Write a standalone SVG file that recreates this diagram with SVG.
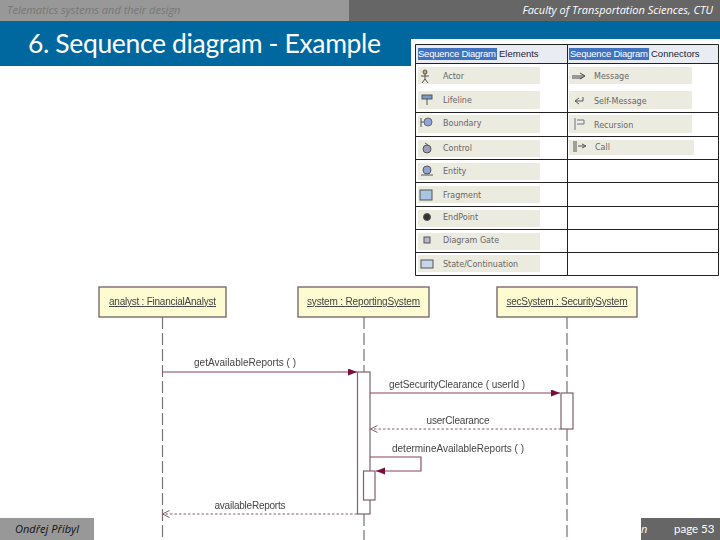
<svg xmlns="http://www.w3.org/2000/svg" width="720" height="540" viewBox="0 0 720 540">
<style>
.hd{font-family:"Open Sans","DejaVu Sans",sans-serif;font-style:italic;font-size:11px}
.uml{font-family:"Liberation Sans",Arial,sans-serif;font-size:10px;fill:#444}
.u{text-decoration:underline}
.cell{fill:#ecebe0}
.lab{font-family:"DejaVu Sans",sans-serif;font-size:8px;fill:#666}
.th{font-family:"Liberation Sans",Arial,sans-serif;font-size:9.500px}
.grid{stroke:#222;stroke-width:1;fill:none}
.obj{fill:#fdfbd2;stroke:#7d6a6a;stroke-width:1.4}
.life{stroke:#7f6f74;stroke-width:1.2;stroke-dasharray:12 4;fill:none}
.act{fill:#fff;stroke:#80606c;stroke-width:1.2}
.msg{stroke:#85405c;stroke-width:1.1;fill:none}
.ret{stroke:#85606e;stroke-width:1;stroke-dasharray:2.500 2;fill:none}
</style>
<defs>
<filter id="soft" x="-2%" y="-2%" width="104%" height="104%"><feGaussianBlur stdDeviation="0.35"/></filter>
<marker id="solid" markerWidth="10" markerHeight="8" refX="9" refY="3.500" orient="auto" markerUnits="userSpaceOnUse"><path d="M0 0L9 3.500L0 7Z" fill="#7b0f3c"/></marker>
<marker id="open" markerWidth="9" markerHeight="8" refX="7.500" refY="3.500" orient="auto" markerUnits="userSpaceOnUse"><path d="M0.500 0L7.500 3.500L0.500 7" fill="none" stroke="#85606e"/></marker>
</defs>
<rect width="720" height="540" fill="#fff"/>
<g id="header">
<rect x="0" y="0" width="349" height="21" fill="#989898"/>
<rect x="349" y="0" width="371" height="21" fill="#666"/>
<rect x="0" y="21" width="720" height="18" fill="#00689f"/>
<rect x="0" y="39" width="411" height="27" fill="#00689f"/>
<text x="7" y="14" class="hd" fill="#777">Telematics systems and their design</text>
<text x="713" y="14" class="hd" fill="#fff" text-anchor="end">Faculty of Transportation Sciences, CTU</text>
<text x="28" y="53" font-family="Lato,'Open Sans',sans-serif" font-size="26.500" fill="#fff" textLength="353">6. Sequence diagram - Example</text>
</g>
<g id="footer">
<rect x="0" y="518" width="94" height="22" fill="#989898"/>
<rect x="641" y="518" width="79" height="22" fill="#666"/>
<text x="15" y="533" class="hd" fill="#111" textLength="64">Ondřej Přibyl</text>
<text x="641" y="533" class="hd" fill="#fff">n</text>
<text x="674" y="533" font-family="Lato,sans-serif" font-size="11.500" fill="#fff">page 53</text>
</g>
<g id="palette">
<rect x="411" y="39" width="309" height="240" fill="#fff"/>
<rect x="416" y="45" width="302" height="18" fill="#e9ecf3"/>
<rect x="418" y="48" width="79" height="12" fill="#3f72c0"/>
<rect x="569" y="48" width="80" height="12" fill="#3f72c0"/>
<g class="cell">
<rect x="418" y="67" width="122" height="17"/><rect x="418" y="91" width="122" height="18"/><rect x="418" y="115" width="122" height="18"/>
<rect x="418" y="140" width="122" height="17"/><rect x="418" y="163" width="122" height="17"/><rect x="418" y="186" width="122" height="17"/><rect x="418" y="210" width="122" height="17"/><rect x="418" y="233" width="122" height="17"/><rect x="418" y="255" width="122" height="17"/>
<rect x="569" y="67" width="123" height="17"/><rect x="569" y="91" width="123" height="18"/><rect x="569" y="115" width="123" height="18"/><rect x="569" y="140" width="125" height="15"/>
</g>
<path class="grid" d="M415.500 44.500H718.500V275.500H415.500ZM415.500 63.500H718.500M415.500 112.500H718.500M415.500 136.500H718.500M415.500 159.500H718.500M415.500 182.500H718.500M415.500 206.500H718.500M415.500 229.500H718.500M415.500 252.500H718.500M567.500 44.500V275.500"/>
<text x="418" y="57" class="th" fill="#fff" textLength="78">Sequence Diagram</text><text x="499" y="57" class="th" fill="#223">Elements</text>
<text x="570" y="57" class="th" fill="#fff" textLength="78">Sequence Diagram</text><text x="651" y="57" class="th" fill="#223">Connectors</text>
<g class="lab">
<text x="443" y="79">Actor</text><text x="443" y="103">Lifeline</text><text x="443" y="126">Boundary</text><text x="443" y="151">Control</text><text x="443" y="174">Entity</text><text x="443" y="198">Fragment</text><text x="443" y="220">EndPoint</text><text x="443" y="243">Diagram Gate</text><text x="443" y="267">State/Continuation</text>
<text x="594" y="79">Message</text><text x="594" y="104">Self-Message</text><text x="594" y="128">Recursion</text><text x="595" y="150">Call</text>
</g>
<g fill="none" stroke="#555">
<circle cx="425" cy="72" r="2" fill="#c9a66b"/><path d="M425 74V79M421 76H429M425 79L422 83M425 79L428 83"/>
<rect x="422" y="95" width="10" height="4" fill="#7a9ac8"/><path d="M427 99V105"/>
<path d="M421 118V127M421 122H424"/><circle cx="428" cy="122" r="4" fill="#8ea6d6" stroke="#667"/>
<circle cx="427" cy="149" r="4" fill="#9aa0b8"/><path d="M425 143L428 145"/>
<circle cx="427" cy="170" r="4" fill="#8ea6d6"/><path d="M421 175H433"/>
<rect x="420" y="190" width="12" height="10" fill="#a8c6e4"/>
<circle cx="427" cy="217" r="3.500" fill="#333"/>
<rect x="424" y="237" width="6" height="6" fill="#b0b8d0"/>
<rect x="421" y="260" width="12" height="8" fill="#c8d6ea"/>
<path d="M572 76H584M580 73L585 76L580 79M572 78H582" stroke="#445"/>
<path d="M583 97V101H576M579 98L575 101L579 104"/>
<path d="M575 118V130M577 120H584V124H577" stroke="#678"/>
<path d="M574 141V152M576 141V152M578 146H585M582 144L586 146L582 148"/>
</g>
</g>
<g id="uml-backdrop"><rect x="94" y="287" width="547" height="253" fill="#fff"/></g>
<g id="uml" filter="url(#soft)">
<g id="connectors">
<path class="life" d="M162.500 317V540"/>
<path class="life" d="M364 317V372M364 514V540"/>
<path class="life" d="M567 317V393M567 429V540"/>
</g>
<g id="node-analyst"><rect class="obj" x="99" y="287" width="127" height="30"/><text class="uml u" x="162.500" y="305" text-anchor="middle" textLength="107">analyst : FinancialAnalyst</text></g>
<g id="node-system"><rect class="obj" x="298" y="287" width="131" height="30"/><text class="uml u" x="363.500" y="305" text-anchor="middle" textLength="113">system : ReportingSystem</text></g>
<g id="node-secsystem"><rect class="obj" x="497" y="287" width="140" height="30"/><text class="uml u" x="567" y="305" text-anchor="middle" textLength="121">secSystem : SecuritySystem</text></g>
<g id="activations">
<rect class="act" x="357.500" y="372" width="12.500" height="142"/>
<rect class="act" x="363.500" y="471" width="11.500" height="29"/>
<rect class="act" x="561" y="393" width="12" height="36"/>
</g>
<g id="messages">
<path class="msg" d="M162.500 372H357" marker-end="url(#solid)"/>
<text class="uml" x="245" y="366" text-anchor="middle" textLength="102">getAvailableReports ( )</text>
<path class="msg" d="M370 393H560" marker-end="url(#solid)"/>
<text class="uml" x="457" y="388" text-anchor="middle" textLength="136">getSecurityClearance ( userId )</text>
<path class="ret" d="M561 429H370.500" marker-end="url(#open)"/>
<text class="uml" x="458" y="424" text-anchor="middle" textLength="63">userClearance</text>
<path class="msg" d="M370 457H421V471H376" marker-end="url(#solid)"/>
<text class="uml" x="458" y="452" text-anchor="middle" textLength="132">determineAvailableReports ( )</text>
<path class="ret" d="M357 514H162.500" marker-end="url(#open)"/>
<text class="uml" x="250" y="509" text-anchor="middle" textLength="71">availableReports</text>
</g>
</g>
</svg>
